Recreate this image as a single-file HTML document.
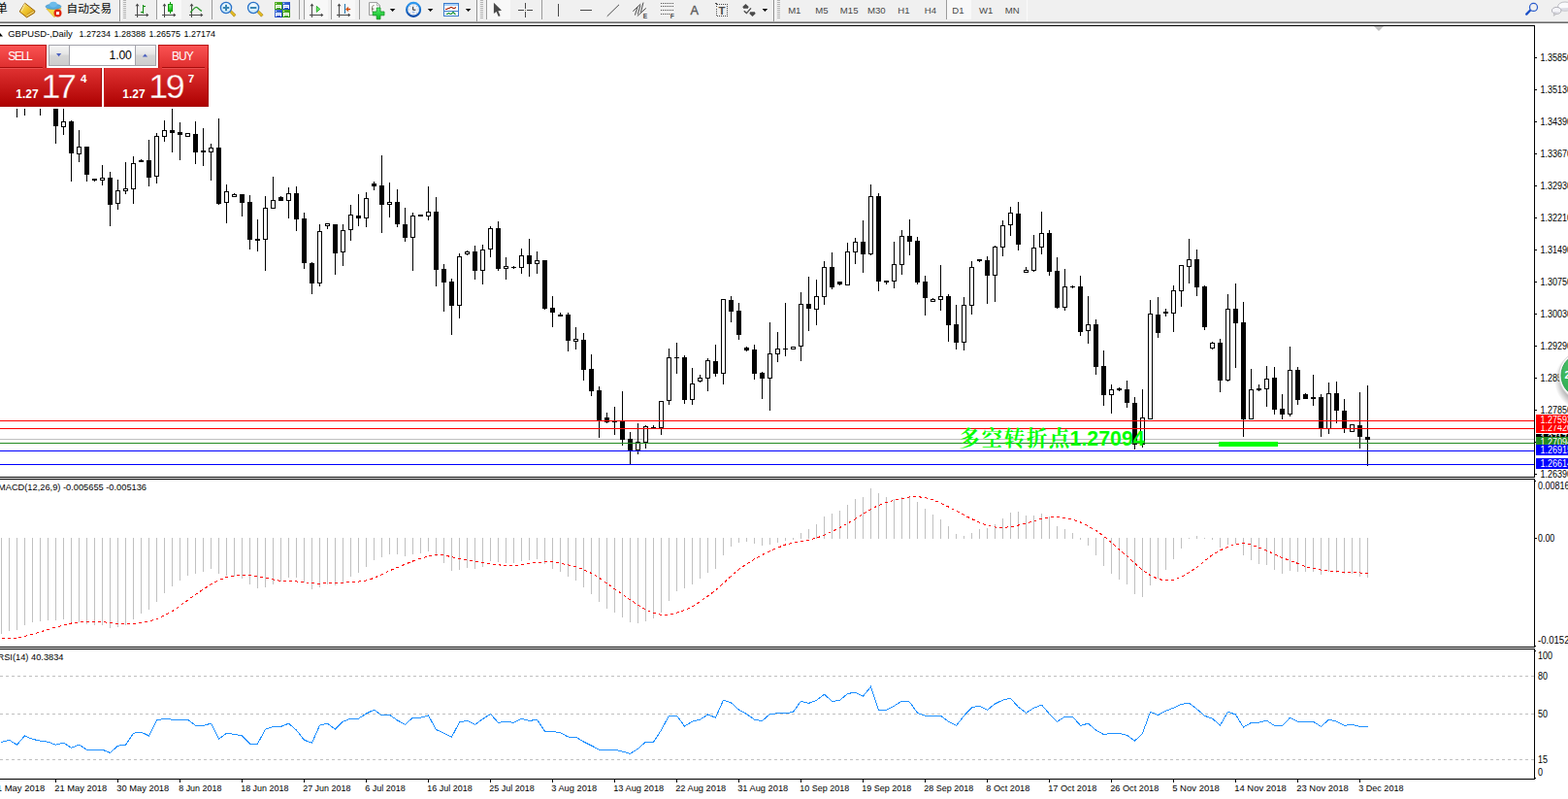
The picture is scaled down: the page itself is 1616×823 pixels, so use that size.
<!DOCTYPE html>
<html><head><meta charset="utf-8"><title>GBPUSD Daily</title>
<style>
html,body{margin:0;padding:0;background:#fff;overflow:hidden}
body{width:1616px;height:823px;font-family:"Liberation Sans",sans-serif}
svg{display:block;font-family:"Liberation Sans",sans-serif}
svg text{white-space:pre}
</style></head><body>
<svg width="1616" height="823" viewBox="0 0 1616 823">
<g shape-rendering="crispEdges">
<rect x="0" y="0" width="1616" height="22" fill="#f0f0f0"/>
<rect x="0" y="22" width="1616" height="1" fill="#a3a3a3"/>
<rect x="0" y="23" width="1616" height="1" fill="#6a6a6a"/>
<rect x="0" y="26" width="1582" height="1" fill="#000"/>
<rect x="0" y="491" width="1582" height="1" fill="#000"/>
<rect x="1581" y="26" width="1" height="466" fill="#000"/>
<rect x="0" y="493" width="1582" height="1" fill="#000"/>
<rect x="0" y="666" width="1582" height="1" fill="#000"/>
<rect x="1581" y="493" width="1" height="174" fill="#000"/>
<rect x="0" y="668" width="1582" height="1" fill="#000"/>
<rect x="0" y="802" width="1582" height="1" fill="#000"/>
<rect x="1581" y="668" width="1" height="135" fill="#000"/>
<rect x="0" y="452" width="1581" height="1" fill="#c0c0c0"/>
<path d="M1416 27h10l-5 5z" fill="#c0c0c0" shape-rendering="auto"/>
<rect x="17" y="112" width="1" height="9" fill="#000"/>
<rect x="25" y="112" width="1" height="7" fill="#000"/>
<rect x="41" y="112" width="1" height="7" fill="#000"/>
<rect x="57" y="112" width="1" height="36" fill="#000"/>
<rect x="55" y="112" width="5" height="18" fill="#000"/>
<rect x="65" y="112" width="1" height="27" fill="#000"/>
<rect x="63" y="125" width="5" height="6" fill="#000"/>
<rect x="64" y="126" width="3" height="4" fill="#fff"/>
<rect x="73" y="124" width="1" height="63" fill="#000"/>
<rect x="71" y="125" width="5" height="33" fill="#000"/>
<rect x="81" y="134" width="1" height="33" fill="#000"/>
<rect x="79" y="151" width="5" height="8" fill="#000"/>
<rect x="80" y="152" width="3" height="6" fill="#fff"/>
<rect x="89" y="151" width="1" height="36" fill="#000"/>
<rect x="87" y="151" width="5" height="29" fill="#000"/>
<rect x="97" y="184" width="1" height="3" fill="#000"/>
<rect x="95" y="184" width="5" height="2" fill="#000"/>
<rect x="105" y="170" width="1" height="21" fill="#000"/>
<rect x="103" y="183" width="5" height="3" fill="#000"/>
<rect x="104" y="184" width="3" height="1" fill="#fff"/>
<rect x="113" y="177" width="1" height="56" fill="#000"/>
<rect x="111" y="183" width="5" height="28" fill="#000"/>
<rect x="121" y="185" width="1" height="31" fill="#000"/>
<rect x="119" y="196" width="5" height="14" fill="#000"/>
<rect x="120" y="197" width="3" height="12" fill="#fff"/>
<rect x="129" y="167" width="1" height="33" fill="#000"/>
<rect x="127" y="194" width="5" height="3" fill="#000"/>
<rect x="128" y="195" width="3" height="1" fill="#fff"/>
<rect x="137" y="161" width="1" height="49" fill="#000"/>
<rect x="135" y="168" width="5" height="27" fill="#000"/>
<rect x="136" y="169" width="3" height="25" fill="#fff"/>
<rect x="145" y="164" width="1" height="3" fill="#000"/>
<rect x="143" y="165" width="5" height="2" fill="#000"/>
<rect x="153" y="144" width="1" height="48" fill="#000"/>
<rect x="151" y="165" width="5" height="18" fill="#000"/>
<rect x="161" y="137" width="1" height="52" fill="#000"/>
<rect x="159" y="140" width="5" height="42" fill="#000"/>
<rect x="160" y="141" width="3" height="40" fill="#fff"/>
<rect x="169" y="124" width="1" height="22" fill="#000"/>
<rect x="167" y="134" width="5" height="7" fill="#000"/>
<rect x="168" y="135" width="3" height="5" fill="#fff"/>
<rect x="177" y="112" width="1" height="45" fill="#000"/>
<rect x="175" y="134" width="5" height="3" fill="#000"/>
<rect x="185" y="126" width="1" height="39" fill="#000"/>
<rect x="183" y="136" width="5" height="3" fill="#000"/>
<rect x="193" y="137" width="1" height="4" fill="#000"/>
<rect x="191" y="137" width="5" height="4" fill="#000"/>
<rect x="192" y="138" width="3" height="2" fill="#fff"/>
<rect x="201" y="125" width="1" height="44" fill="#000"/>
<rect x="199" y="138" width="5" height="19" fill="#000"/>
<rect x="209" y="132" width="1" height="39" fill="#000"/>
<rect x="207" y="155" width="5" height="2" fill="#000"/>
<rect x="217" y="148" width="1" height="38" fill="#000"/>
<rect x="215" y="152" width="5" height="5" fill="#000"/>
<rect x="216" y="153" width="3" height="3" fill="#fff"/>
<rect x="225" y="122" width="1" height="89" fill="#000"/>
<rect x="223" y="152" width="5" height="58" fill="#000"/>
<rect x="233" y="190" width="1" height="40" fill="#000"/>
<rect x="231" y="197" width="5" height="12" fill="#000"/>
<rect x="232" y="198" width="3" height="10" fill="#fff"/>
<rect x="241" y="199" width="1" height="4" fill="#000"/>
<rect x="239" y="200" width="5" height="3" fill="#000"/>
<rect x="240" y="201" width="3" height="1" fill="#fff"/>
<rect x="249" y="200" width="1" height="23" fill="#000"/>
<rect x="247" y="200" width="5" height="9" fill="#000"/>
<rect x="257" y="201" width="1" height="56" fill="#000"/>
<rect x="255" y="208" width="5" height="39" fill="#000"/>
<rect x="265" y="226" width="1" height="33" fill="#000"/>
<rect x="263" y="246" width="5" height="2" fill="#000"/>
<rect x="273" y="202" width="1" height="77" fill="#000"/>
<rect x="271" y="214" width="5" height="33" fill="#000"/>
<rect x="272" y="215" width="3" height="31" fill="#fff"/>
<rect x="281" y="182" width="1" height="33" fill="#000"/>
<rect x="279" y="206" width="5" height="9" fill="#000"/>
<rect x="280" y="207" width="3" height="7" fill="#fff"/>
<rect x="289" y="202" width="1" height="5" fill="#000"/>
<rect x="287" y="203" width="5" height="4" fill="#000"/>
<rect x="297" y="193" width="1" height="32" fill="#000"/>
<rect x="295" y="199" width="5" height="8" fill="#000"/>
<rect x="296" y="200" width="3" height="6" fill="#fff"/>
<rect x="305" y="192" width="1" height="46" fill="#000"/>
<rect x="303" y="199" width="5" height="27" fill="#000"/>
<rect x="313" y="219" width="1" height="58" fill="#000"/>
<rect x="311" y="225" width="5" height="46" fill="#000"/>
<rect x="321" y="270" width="1" height="33" fill="#000"/>
<rect x="319" y="271" width="5" height="21" fill="#000"/>
<rect x="329" y="231" width="1" height="64" fill="#000"/>
<rect x="327" y="238" width="5" height="54" fill="#000"/>
<rect x="328" y="239" width="3" height="52" fill="#fff"/>
<rect x="337" y="230" width="1" height="6" fill="#000"/>
<rect x="335" y="230" width="5" height="3" fill="#000"/>
<rect x="336" y="231" width="3" height="1" fill="#fff"/>
<rect x="345" y="231" width="1" height="52" fill="#000"/>
<rect x="343" y="231" width="5" height="30" fill="#000"/>
<rect x="353" y="231" width="1" height="43" fill="#000"/>
<rect x="351" y="237" width="5" height="23" fill="#000"/>
<rect x="352" y="238" width="3" height="21" fill="#fff"/>
<rect x="361" y="211" width="1" height="37" fill="#000"/>
<rect x="359" y="221" width="5" height="16" fill="#000"/>
<rect x="360" y="222" width="3" height="14" fill="#fff"/>
<rect x="369" y="200" width="1" height="33" fill="#000"/>
<rect x="367" y="222" width="5" height="3" fill="#000"/>
<rect x="377" y="198" width="1" height="36" fill="#000"/>
<rect x="375" y="204" width="5" height="21" fill="#000"/>
<rect x="376" y="205" width="3" height="19" fill="#fff"/>
<rect x="385" y="187" width="1" height="9" fill="#000"/>
<rect x="383" y="189" width="5" height="3" fill="#000"/>
<rect x="393" y="160" width="1" height="80" fill="#000"/>
<rect x="391" y="191" width="5" height="20" fill="#000"/>
<rect x="401" y="188" width="1" height="36" fill="#000"/>
<rect x="399" y="208" width="5" height="3" fill="#000"/>
<rect x="400" y="209" width="3" height="1" fill="#fff"/>
<rect x="409" y="195" width="1" height="39" fill="#000"/>
<rect x="407" y="208" width="5" height="23" fill="#000"/>
<rect x="417" y="214" width="1" height="35" fill="#000"/>
<rect x="415" y="231" width="5" height="14" fill="#000"/>
<rect x="425" y="219" width="1" height="60" fill="#000"/>
<rect x="423" y="222" width="5" height="23" fill="#000"/>
<rect x="424" y="223" width="3" height="21" fill="#fff"/>
<rect x="433" y="221" width="1" height="2" fill="#000"/>
<rect x="431" y="221" width="5" height="2" fill="#000"/>
<rect x="441" y="192" width="1" height="35" fill="#000"/>
<rect x="439" y="218" width="5" height="5" fill="#000"/>
<rect x="440" y="219" width="3" height="3" fill="#fff"/>
<rect x="449" y="203" width="1" height="92" fill="#000"/>
<rect x="447" y="218" width="5" height="60" fill="#000"/>
<rect x="457" y="272" width="1" height="49" fill="#000"/>
<rect x="455" y="277" width="5" height="14" fill="#000"/>
<rect x="465" y="287" width="1" height="58" fill="#000"/>
<rect x="463" y="290" width="5" height="25" fill="#000"/>
<rect x="473" y="261" width="1" height="67" fill="#000"/>
<rect x="471" y="264" width="5" height="51" fill="#000"/>
<rect x="472" y="265" width="3" height="49" fill="#fff"/>
<rect x="481" y="258" width="1" height="5" fill="#000"/>
<rect x="479" y="259" width="5" height="3" fill="#000"/>
<rect x="480" y="260" width="3" height="1" fill="#fff"/>
<rect x="489" y="253" width="1" height="35" fill="#000"/>
<rect x="487" y="259" width="5" height="20" fill="#000"/>
<rect x="497" y="252" width="1" height="41" fill="#000"/>
<rect x="495" y="257" width="5" height="22" fill="#000"/>
<rect x="496" y="258" width="3" height="20" fill="#fff"/>
<rect x="505" y="233" width="1" height="32" fill="#000"/>
<rect x="503" y="235" width="5" height="22" fill="#000"/>
<rect x="504" y="236" width="3" height="20" fill="#fff"/>
<rect x="513" y="228" width="1" height="51" fill="#000"/>
<rect x="511" y="235" width="5" height="42" fill="#000"/>
<rect x="521" y="265" width="1" height="23" fill="#000"/>
<rect x="519" y="274" width="5" height="3" fill="#000"/>
<rect x="520" y="275" width="3" height="1" fill="#fff"/>
<rect x="529" y="274" width="1" height="3" fill="#000"/>
<rect x="527" y="275" width="5" height="1" fill="#000"/>
<rect x="537" y="256" width="1" height="26" fill="#000"/>
<rect x="535" y="263" width="5" height="13" fill="#000"/>
<rect x="536" y="264" width="3" height="11" fill="#fff"/>
<rect x="545" y="246" width="1" height="39" fill="#000"/>
<rect x="543" y="263" width="5" height="9" fill="#000"/>
<rect x="553" y="259" width="1" height="23" fill="#000"/>
<rect x="551" y="268" width="5" height="4" fill="#000"/>
<rect x="552" y="269" width="3" height="2" fill="#fff"/>
<rect x="561" y="268" width="1" height="51" fill="#000"/>
<rect x="559" y="268" width="5" height="50" fill="#000"/>
<rect x="569" y="305" width="1" height="32" fill="#000"/>
<rect x="567" y="317" width="5" height="5" fill="#000"/>
<rect x="577" y="322" width="1" height="4" fill="#000"/>
<rect x="575" y="324" width="5" height="2" fill="#000"/>
<rect x="585" y="322" width="1" height="40" fill="#000"/>
<rect x="583" y="324" width="5" height="27" fill="#000"/>
<rect x="593" y="337" width="1" height="23" fill="#000"/>
<rect x="591" y="349" width="5" height="3" fill="#000"/>
<rect x="592" y="350" width="3" height="1" fill="#fff"/>
<rect x="601" y="343" width="1" height="49" fill="#000"/>
<rect x="599" y="350" width="5" height="31" fill="#000"/>
<rect x="609" y="365" width="1" height="43" fill="#000"/>
<rect x="607" y="380" width="5" height="23" fill="#000"/>
<rect x="617" y="398" width="1" height="53" fill="#000"/>
<rect x="615" y="402" width="5" height="31" fill="#000"/>
<rect x="625" y="425" width="1" height="11" fill="#000"/>
<rect x="623" y="430" width="5" height="5" fill="#000"/>
<rect x="633" y="419" width="1" height="29" fill="#000"/>
<rect x="631" y="434" width="5" height="1" fill="#000"/>
<rect x="641" y="403" width="1" height="56" fill="#000"/>
<rect x="639" y="434" width="5" height="19" fill="#000"/>
<rect x="649" y="445" width="1" height="33" fill="#000"/>
<rect x="647" y="452" width="5" height="12" fill="#000"/>
<rect x="657" y="436" width="1" height="32" fill="#000"/>
<rect x="655" y="455" width="5" height="9" fill="#000"/>
<rect x="656" y="456" width="3" height="7" fill="#fff"/>
<rect x="665" y="438" width="1" height="24" fill="#000"/>
<rect x="663" y="439" width="5" height="17" fill="#000"/>
<rect x="664" y="440" width="3" height="15" fill="#fff"/>
<rect x="673" y="438" width="1" height="3" fill="#000"/>
<rect x="671" y="440" width="5" height="1" fill="#000"/>
<rect x="681" y="413" width="1" height="35" fill="#000"/>
<rect x="679" y="413" width="5" height="28" fill="#000"/>
<rect x="680" y="414" width="3" height="26" fill="#fff"/>
<rect x="689" y="359" width="1" height="58" fill="#000"/>
<rect x="687" y="368" width="5" height="45" fill="#000"/>
<rect x="688" y="369" width="3" height="43" fill="#fff"/>
<rect x="697" y="353" width="1" height="32" fill="#000"/>
<rect x="695" y="368" width="5" height="1" fill="#000"/>
<rect x="705" y="366" width="1" height="50" fill="#000"/>
<rect x="703" y="368" width="5" height="44" fill="#000"/>
<rect x="713" y="379" width="1" height="38" fill="#000"/>
<rect x="711" y="395" width="5" height="17" fill="#000"/>
<rect x="712" y="396" width="3" height="15" fill="#fff"/>
<rect x="721" y="386" width="1" height="8" fill="#000"/>
<rect x="719" y="389" width="5" height="4" fill="#000"/>
<rect x="720" y="390" width="3" height="2" fill="#fff"/>
<rect x="729" y="369" width="1" height="34" fill="#000"/>
<rect x="727" y="371" width="5" height="19" fill="#000"/>
<rect x="728" y="372" width="3" height="17" fill="#fff"/>
<rect x="737" y="355" width="1" height="33" fill="#000"/>
<rect x="735" y="372" width="5" height="13" fill="#000"/>
<rect x="745" y="308" width="1" height="88" fill="#000"/>
<rect x="743" y="308" width="5" height="77" fill="#000"/>
<rect x="744" y="309" width="3" height="75" fill="#fff"/>
<rect x="753" y="305" width="1" height="27" fill="#000"/>
<rect x="751" y="309" width="5" height="12" fill="#000"/>
<rect x="761" y="312" width="1" height="38" fill="#000"/>
<rect x="759" y="320" width="5" height="25" fill="#000"/>
<rect x="769" y="357" width="1" height="5" fill="#000"/>
<rect x="767" y="358" width="5" height="3" fill="#000"/>
<rect x="777" y="355" width="1" height="36" fill="#000"/>
<rect x="775" y="360" width="5" height="25" fill="#000"/>
<rect x="785" y="383" width="1" height="28" fill="#000"/>
<rect x="783" y="384" width="5" height="6" fill="#000"/>
<rect x="793" y="332" width="1" height="91" fill="#000"/>
<rect x="791" y="364" width="5" height="26" fill="#000"/>
<rect x="792" y="365" width="3" height="24" fill="#fff"/>
<rect x="801" y="342" width="1" height="31" fill="#000"/>
<rect x="799" y="359" width="5" height="6" fill="#000"/>
<rect x="800" y="360" width="3" height="4" fill="#fff"/>
<rect x="809" y="312" width="1" height="55" fill="#000"/>
<rect x="807" y="359" width="5" height="1" fill="#000"/>
<rect x="817" y="357" width="1" height="3" fill="#000"/>
<rect x="815" y="357" width="5" height="3" fill="#000"/>
<rect x="816" y="358" width="3" height="1" fill="#fff"/>
<rect x="825" y="301" width="1" height="71" fill="#000"/>
<rect x="823" y="313" width="5" height="44" fill="#000"/>
<rect x="824" y="314" width="3" height="42" fill="#fff"/>
<rect x="833" y="285" width="1" height="56" fill="#000"/>
<rect x="831" y="313" width="5" height="5" fill="#000"/>
<rect x="841" y="288" width="1" height="47" fill="#000"/>
<rect x="839" y="305" width="5" height="14" fill="#000"/>
<rect x="840" y="306" width="3" height="12" fill="#fff"/>
<rect x="849" y="269" width="1" height="45" fill="#000"/>
<rect x="847" y="275" width="5" height="31" fill="#000"/>
<rect x="848" y="276" width="3" height="29" fill="#fff"/>
<rect x="857" y="260" width="1" height="38" fill="#000"/>
<rect x="855" y="275" width="5" height="21" fill="#000"/>
<rect x="865" y="290" width="1" height="4" fill="#000"/>
<rect x="863" y="290" width="5" height="3" fill="#000"/>
<rect x="873" y="250" width="1" height="44" fill="#000"/>
<rect x="871" y="259" width="5" height="35" fill="#000"/>
<rect x="872" y="260" width="3" height="33" fill="#fff"/>
<rect x="881" y="245" width="1" height="27" fill="#000"/>
<rect x="879" y="249" width="5" height="11" fill="#000"/>
<rect x="880" y="250" width="3" height="9" fill="#fff"/>
<rect x="889" y="227" width="1" height="54" fill="#000"/>
<rect x="887" y="249" width="5" height="13" fill="#000"/>
<rect x="897" y="190" width="1" height="73" fill="#000"/>
<rect x="895" y="202" width="5" height="60" fill="#000"/>
<rect x="896" y="203" width="3" height="58" fill="#fff"/>
<rect x="905" y="199" width="1" height="101" fill="#000"/>
<rect x="903" y="202" width="5" height="88" fill="#000"/>
<rect x="913" y="289" width="1" height="4" fill="#000"/>
<rect x="911" y="289" width="5" height="2" fill="#000"/>
<rect x="921" y="249" width="1" height="48" fill="#000"/>
<rect x="919" y="272" width="5" height="18" fill="#000"/>
<rect x="920" y="273" width="3" height="16" fill="#fff"/>
<rect x="929" y="237" width="1" height="46" fill="#000"/>
<rect x="927" y="243" width="5" height="30" fill="#000"/>
<rect x="928" y="244" width="3" height="28" fill="#fff"/>
<rect x="937" y="226" width="1" height="37" fill="#000"/>
<rect x="935" y="243" width="5" height="6" fill="#000"/>
<rect x="945" y="244" width="1" height="49" fill="#000"/>
<rect x="943" y="248" width="5" height="43" fill="#000"/>
<rect x="953" y="284" width="1" height="41" fill="#000"/>
<rect x="951" y="290" width="5" height="17" fill="#000"/>
<rect x="961" y="307" width="1" height="4" fill="#000"/>
<rect x="959" y="308" width="5" height="3" fill="#000"/>
<rect x="960" y="309" width="3" height="1" fill="#fff"/>
<rect x="969" y="273" width="1" height="47" fill="#000"/>
<rect x="967" y="305" width="5" height="4" fill="#000"/>
<rect x="968" y="306" width="3" height="2" fill="#fff"/>
<rect x="977" y="303" width="1" height="49" fill="#000"/>
<rect x="975" y="305" width="5" height="30" fill="#000"/>
<rect x="985" y="314" width="1" height="46" fill="#000"/>
<rect x="983" y="334" width="5" height="19" fill="#000"/>
<rect x="993" y="306" width="1" height="55" fill="#000"/>
<rect x="991" y="314" width="5" height="39" fill="#000"/>
<rect x="992" y="315" width="3" height="37" fill="#fff"/>
<rect x="1001" y="269" width="1" height="55" fill="#000"/>
<rect x="999" y="275" width="5" height="40" fill="#000"/>
<rect x="1000" y="276" width="3" height="38" fill="#fff"/>
<rect x="1009" y="267" width="1" height="3" fill="#000"/>
<rect x="1007" y="267" width="5" height="2" fill="#000"/>
<rect x="1017" y="264" width="1" height="49" fill="#000"/>
<rect x="1015" y="268" width="5" height="16" fill="#000"/>
<rect x="1025" y="253" width="1" height="58" fill="#000"/>
<rect x="1023" y="254" width="5" height="30" fill="#000"/>
<rect x="1024" y="255" width="3" height="28" fill="#fff"/>
<rect x="1033" y="227" width="1" height="37" fill="#000"/>
<rect x="1031" y="232" width="5" height="23" fill="#000"/>
<rect x="1032" y="233" width="3" height="21" fill="#fff"/>
<rect x="1041" y="213" width="1" height="30" fill="#000"/>
<rect x="1039" y="219" width="5" height="13" fill="#000"/>
<rect x="1040" y="220" width="3" height="11" fill="#fff"/>
<rect x="1049" y="208" width="1" height="50" fill="#000"/>
<rect x="1047" y="220" width="5" height="32" fill="#000"/>
<rect x="1057" y="275" width="1" height="5" fill="#000"/>
<rect x="1055" y="278" width="5" height="3" fill="#000"/>
<rect x="1056" y="279" width="3" height="1" fill="#fff"/>
<rect x="1065" y="242" width="1" height="38" fill="#000"/>
<rect x="1063" y="255" width="5" height="24" fill="#000"/>
<rect x="1064" y="256" width="3" height="22" fill="#fff"/>
<rect x="1073" y="218" width="1" height="44" fill="#000"/>
<rect x="1071" y="240" width="5" height="15" fill="#000"/>
<rect x="1072" y="241" width="3" height="13" fill="#fff"/>
<rect x="1081" y="237" width="1" height="47" fill="#000"/>
<rect x="1079" y="240" width="5" height="40" fill="#000"/>
<rect x="1089" y="265" width="1" height="53" fill="#000"/>
<rect x="1087" y="279" width="5" height="38" fill="#000"/>
<rect x="1097" y="277" width="1" height="43" fill="#000"/>
<rect x="1095" y="295" width="5" height="22" fill="#000"/>
<rect x="1096" y="296" width="3" height="20" fill="#fff"/>
<rect x="1105" y="294" width="1" height="3" fill="#000"/>
<rect x="1103" y="295" width="5" height="1" fill="#000"/>
<rect x="1113" y="284" width="1" height="62" fill="#000"/>
<rect x="1111" y="295" width="5" height="47" fill="#000"/>
<rect x="1121" y="305" width="1" height="49" fill="#000"/>
<rect x="1119" y="334" width="5" height="7" fill="#000"/>
<rect x="1120" y="335" width="3" height="5" fill="#fff"/>
<rect x="1129" y="329" width="1" height="57" fill="#000"/>
<rect x="1127" y="334" width="5" height="44" fill="#000"/>
<rect x="1137" y="361" width="1" height="57" fill="#000"/>
<rect x="1135" y="377" width="5" height="30" fill="#000"/>
<rect x="1145" y="396" width="1" height="30" fill="#000"/>
<rect x="1143" y="401" width="5" height="6" fill="#000"/>
<rect x="1144" y="402" width="3" height="4" fill="#fff"/>
<rect x="1153" y="399" width="1" height="4" fill="#000"/>
<rect x="1151" y="400" width="5" height="2" fill="#000"/>
<rect x="1161" y="392" width="1" height="28" fill="#000"/>
<rect x="1159" y="401" width="5" height="14" fill="#000"/>
<rect x="1169" y="409" width="1" height="54" fill="#000"/>
<rect x="1167" y="415" width="5" height="43" fill="#000"/>
<rect x="1177" y="401" width="1" height="60" fill="#000"/>
<rect x="1175" y="430" width="5" height="28" fill="#000"/>
<rect x="1176" y="431" width="3" height="26" fill="#fff"/>
<rect x="1185" y="309" width="1" height="123" fill="#000"/>
<rect x="1183" y="323" width="5" height="109" fill="#000"/>
<rect x="1184" y="324" width="3" height="107" fill="#fff"/>
<rect x="1193" y="306" width="1" height="42" fill="#000"/>
<rect x="1191" y="324" width="5" height="19" fill="#000"/>
<rect x="1201" y="318" width="1" height="8" fill="#000"/>
<rect x="1199" y="321" width="5" height="2" fill="#000"/>
<rect x="1209" y="294" width="1" height="48" fill="#000"/>
<rect x="1207" y="299" width="5" height="24" fill="#000"/>
<rect x="1208" y="300" width="3" height="22" fill="#fff"/>
<rect x="1217" y="273" width="1" height="43" fill="#000"/>
<rect x="1215" y="273" width="5" height="27" fill="#000"/>
<rect x="1216" y="274" width="3" height="25" fill="#fff"/>
<rect x="1225" y="246" width="1" height="46" fill="#000"/>
<rect x="1223" y="267" width="5" height="8" fill="#000"/>
<rect x="1224" y="268" width="3" height="6" fill="#fff"/>
<rect x="1233" y="257" width="1" height="48" fill="#000"/>
<rect x="1231" y="267" width="5" height="29" fill="#000"/>
<rect x="1241" y="294" width="1" height="46" fill="#000"/>
<rect x="1239" y="295" width="5" height="42" fill="#000"/>
<rect x="1249" y="352" width="1" height="8" fill="#000"/>
<rect x="1247" y="353" width="5" height="6" fill="#000"/>
<rect x="1248" y="354" width="3" height="4" fill="#fff"/>
<rect x="1257" y="349" width="1" height="55" fill="#000"/>
<rect x="1255" y="353" width="5" height="39" fill="#000"/>
<rect x="1265" y="303" width="1" height="90" fill="#000"/>
<rect x="1263" y="318" width="5" height="74" fill="#000"/>
<rect x="1264" y="319" width="3" height="72" fill="#fff"/>
<rect x="1273" y="292" width="1" height="87" fill="#000"/>
<rect x="1271" y="318" width="5" height="15" fill="#000"/>
<rect x="1281" y="311" width="1" height="139" fill="#000"/>
<rect x="1279" y="332" width="5" height="100" fill="#000"/>
<rect x="1289" y="380" width="1" height="52" fill="#000"/>
<rect x="1287" y="401" width="5" height="31" fill="#000"/>
<rect x="1288" y="402" width="3" height="29" fill="#fff"/>
<rect x="1297" y="396" width="1" height="7" fill="#000"/>
<rect x="1295" y="400" width="5" height="2" fill="#000"/>
<rect x="1305" y="377" width="1" height="42" fill="#000"/>
<rect x="1303" y="390" width="5" height="11" fill="#000"/>
<rect x="1304" y="391" width="3" height="9" fill="#fff"/>
<rect x="1313" y="378" width="1" height="49" fill="#000"/>
<rect x="1311" y="389" width="5" height="33" fill="#000"/>
<rect x="1321" y="406" width="1" height="26" fill="#000"/>
<rect x="1319" y="421" width="5" height="6" fill="#000"/>
<rect x="1329" y="357" width="1" height="72" fill="#000"/>
<rect x="1327" y="381" width="5" height="46" fill="#000"/>
<rect x="1328" y="382" width="3" height="44" fill="#fff"/>
<rect x="1337" y="378" width="1" height="39" fill="#000"/>
<rect x="1335" y="381" width="5" height="31" fill="#000"/>
<rect x="1345" y="405" width="1" height="6" fill="#000"/>
<rect x="1343" y="406" width="5" height="5" fill="#000"/>
<rect x="1353" y="386" width="1" height="32" fill="#000"/>
<rect x="1351" y="409" width="5" height="2" fill="#000"/>
<rect x="1361" y="406" width="1" height="44" fill="#000"/>
<rect x="1359" y="409" width="5" height="33" fill="#000"/>
<rect x="1369" y="394" width="1" height="53" fill="#000"/>
<rect x="1367" y="405" width="5" height="37" fill="#000"/>
<rect x="1368" y="406" width="3" height="35" fill="#fff"/>
<rect x="1377" y="393" width="1" height="43" fill="#000"/>
<rect x="1375" y="405" width="5" height="18" fill="#000"/>
<rect x="1385" y="411" width="1" height="35" fill="#000"/>
<rect x="1383" y="423" width="5" height="18" fill="#000"/>
<rect x="1393" y="437" width="1" height="8" fill="#000"/>
<rect x="1391" y="437" width="5" height="8" fill="#000"/>
<rect x="1392" y="438" width="3" height="6" fill="#fff"/>
<rect x="1401" y="404" width="1" height="58" fill="#000"/>
<rect x="1399" y="438" width="5" height="12" fill="#000"/>
<rect x="1409" y="397" width="1" height="83" fill="#000"/>
<rect x="1407" y="450" width="5" height="3" fill="#000"/>
<rect x="0" y="433" width="1581" height="1" fill="#ff0000"/>
<rect x="0" y="441" width="1581" height="1" fill="#ff0000"/>
<rect x="0" y="456" width="1581" height="1" fill="#228b22"/>
<rect x="0" y="464" width="1581" height="1" fill="#0000ff"/>
<rect x="0" y="478" width="1581" height="1" fill="#0000ff"/>
<rect x="1256" y="455" width="61" height="5" fill="#00ff00"/>
<rect x="1" y="554" width="1" height="99" fill="#c0c0c0"/>
<rect x="9" y="554" width="1" height="96" fill="#c0c0c0"/>
<rect x="17" y="554" width="1" height="95" fill="#c0c0c0"/>
<rect x="25" y="554" width="1" height="90" fill="#c0c0c0"/>
<rect x="33" y="554" width="1" height="87" fill="#c0c0c0"/>
<rect x="41" y="554" width="1" height="86" fill="#c0c0c0"/>
<rect x="49" y="554" width="1" height="85" fill="#c0c0c0"/>
<rect x="57" y="554" width="1" height="85" fill="#c0c0c0"/>
<rect x="65" y="554" width="1" height="84" fill="#c0c0c0"/>
<rect x="73" y="554" width="1" height="87" fill="#c0c0c0"/>
<rect x="81" y="554" width="1" height="87" fill="#c0c0c0"/>
<rect x="89" y="554" width="1" height="89" fill="#c0c0c0"/>
<rect x="97" y="554" width="1" height="90" fill="#c0c0c0"/>
<rect x="105" y="554" width="1" height="90" fill="#c0c0c0"/>
<rect x="113" y="554" width="1" height="93" fill="#c0c0c0"/>
<rect x="121" y="554" width="1" height="92" fill="#c0c0c0"/>
<rect x="129" y="554" width="1" height="90" fill="#c0c0c0"/>
<rect x="137" y="554" width="1" height="84" fill="#c0c0c0"/>
<rect x="145" y="554" width="1" height="78" fill="#c0c0c0"/>
<rect x="153" y="554" width="1" height="74" fill="#c0c0c0"/>
<rect x="161" y="554" width="1" height="66" fill="#c0c0c0"/>
<rect x="169" y="554" width="1" height="57" fill="#c0c0c0"/>
<rect x="177" y="554" width="1" height="50" fill="#c0c0c0"/>
<rect x="185" y="554" width="1" height="44" fill="#c0c0c0"/>
<rect x="193" y="554" width="1" height="39" fill="#c0c0c0"/>
<rect x="201" y="554" width="1" height="37" fill="#c0c0c0"/>
<rect x="209" y="554" width="1" height="35" fill="#c0c0c0"/>
<rect x="217" y="554" width="1" height="32" fill="#c0c0c0"/>
<rect x="225" y="554" width="1" height="37" fill="#c0c0c0"/>
<rect x="233" y="554" width="1" height="39" fill="#c0c0c0"/>
<rect x="241" y="554" width="1" height="40" fill="#c0c0c0"/>
<rect x="249" y="554" width="1" height="42" fill="#c0c0c0"/>
<rect x="257" y="554" width="1" height="48" fill="#c0c0c0"/>
<rect x="265" y="554" width="1" height="52" fill="#c0c0c0"/>
<rect x="273" y="554" width="1" height="51" fill="#c0c0c0"/>
<rect x="281" y="554" width="1" height="48" fill="#c0c0c0"/>
<rect x="289" y="554" width="1" height="45" fill="#c0c0c0"/>
<rect x="297" y="554" width="1" height="41" fill="#c0c0c0"/>
<rect x="305" y="554" width="1" height="41" fill="#c0c0c0"/>
<rect x="313" y="554" width="1" height="46" fill="#c0c0c0"/>
<rect x="321" y="554" width="1" height="53" fill="#c0c0c0"/>
<rect x="329" y="554" width="1" height="51" fill="#c0c0c0"/>
<rect x="337" y="554" width="1" height="48" fill="#c0c0c0"/>
<rect x="345" y="554" width="1" height="49" fill="#c0c0c0"/>
<rect x="353" y="554" width="1" height="46" fill="#c0c0c0"/>
<rect x="361" y="554" width="1" height="40" fill="#c0c0c0"/>
<rect x="369" y="554" width="1" height="36" fill="#c0c0c0"/>
<rect x="377" y="554" width="1" height="30" fill="#c0c0c0"/>
<rect x="385" y="554" width="1" height="23" fill="#c0c0c0"/>
<rect x="393" y="554" width="1" height="20" fill="#c0c0c0"/>
<rect x="401" y="554" width="1" height="17" fill="#c0c0c0"/>
<rect x="409" y="554" width="1" height="17" fill="#c0c0c0"/>
<rect x="417" y="554" width="1" height="19" fill="#c0c0c0"/>
<rect x="425" y="554" width="1" height="17" fill="#c0c0c0"/>
<rect x="433" y="554" width="1" height="16" fill="#c0c0c0"/>
<rect x="441" y="554" width="1" height="14" fill="#c0c0c0"/>
<rect x="449" y="554" width="1" height="19" fill="#c0c0c0"/>
<rect x="457" y="554" width="1" height="26" fill="#c0c0c0"/>
<rect x="465" y="554" width="1" height="34" fill="#c0c0c0"/>
<rect x="473" y="554" width="1" height="33" fill="#c0c0c0"/>
<rect x="481" y="554" width="1" height="31" fill="#c0c0c0"/>
<rect x="489" y="554" width="1" height="32" fill="#c0c0c0"/>
<rect x="497" y="554" width="1" height="30" fill="#c0c0c0"/>
<rect x="505" y="554" width="1" height="24" fill="#c0c0c0"/>
<rect x="513" y="554" width="1" height="25" fill="#c0c0c0"/>
<rect x="521" y="554" width="1" height="26" fill="#c0c0c0"/>
<rect x="529" y="554" width="1" height="26" fill="#c0c0c0"/>
<rect x="537" y="554" width="1" height="24" fill="#c0c0c0"/>
<rect x="545" y="554" width="1" height="23" fill="#c0c0c0"/>
<rect x="553" y="554" width="1" height="22" fill="#c0c0c0"/>
<rect x="561" y="554" width="1" height="27" fill="#c0c0c0"/>
<rect x="569" y="554" width="1" height="32" fill="#c0c0c0"/>
<rect x="577" y="554" width="1" height="35" fill="#c0c0c0"/>
<rect x="585" y="554" width="1" height="40" fill="#c0c0c0"/>
<rect x="593" y="554" width="1" height="44" fill="#c0c0c0"/>
<rect x="601" y="554" width="1" height="51" fill="#c0c0c0"/>
<rect x="609" y="554" width="1" height="58" fill="#c0c0c0"/>
<rect x="617" y="554" width="1" height="66" fill="#c0c0c0"/>
<rect x="625" y="554" width="1" height="73" fill="#c0c0c0"/>
<rect x="633" y="554" width="1" height="77" fill="#c0c0c0"/>
<rect x="641" y="554" width="1" height="82" fill="#c0c0c0"/>
<rect x="649" y="554" width="1" height="87" fill="#c0c0c0"/>
<rect x="657" y="554" width="1" height="88" fill="#c0c0c0"/>
<rect x="665" y="554" width="1" height="86" fill="#c0c0c0"/>
<rect x="673" y="554" width="1" height="83" fill="#c0c0c0"/>
<rect x="681" y="554" width="1" height="77" fill="#c0c0c0"/>
<rect x="689" y="554" width="1" height="65" fill="#c0c0c0"/>
<rect x="697" y="554" width="1" height="55" fill="#c0c0c0"/>
<rect x="705" y="554" width="1" height="52" fill="#c0c0c0"/>
<rect x="713" y="554" width="1" height="48" fill="#c0c0c0"/>
<rect x="721" y="554" width="1" height="42" fill="#c0c0c0"/>
<rect x="729" y="554" width="1" height="36" fill="#c0c0c0"/>
<rect x="737" y="554" width="1" height="32" fill="#c0c0c0"/>
<rect x="745" y="554" width="1" height="18" fill="#c0c0c0"/>
<rect x="753" y="554" width="1" height="9" fill="#c0c0c0"/>
<rect x="761" y="554" width="1" height="5" fill="#c0c0c0"/>
<rect x="769" y="554" width="1" height="4" fill="#c0c0c0"/>
<rect x="777" y="554" width="1" height="6" fill="#c0c0c0"/>
<rect x="785" y="554" width="1" height="8" fill="#c0c0c0"/>
<rect x="793" y="554" width="1" height="7" fill="#c0c0c0"/>
<rect x="801" y="554" width="1" height="5" fill="#c0c0c0"/>
<rect x="809" y="554" width="1" height="3" fill="#c0c0c0"/>
<rect x="817" y="554" width="1" height="2" fill="#c0c0c0"/>
<rect x="825" y="549" width="1" height="6" fill="#c0c0c0"/>
<rect x="833" y="545" width="1" height="10" fill="#c0c0c0"/>
<rect x="841" y="540" width="1" height="15" fill="#c0c0c0"/>
<rect x="849" y="532" width="1" height="23" fill="#c0c0c0"/>
<rect x="857" y="529" width="1" height="26" fill="#c0c0c0"/>
<rect x="865" y="526" width="1" height="29" fill="#c0c0c0"/>
<rect x="873" y="520" width="1" height="35" fill="#c0c0c0"/>
<rect x="881" y="514" width="1" height="41" fill="#c0c0c0"/>
<rect x="889" y="512" width="1" height="43" fill="#c0c0c0"/>
<rect x="897" y="503" width="1" height="52" fill="#c0c0c0"/>
<rect x="905" y="508" width="1" height="47" fill="#c0c0c0"/>
<rect x="913" y="512" width="1" height="43" fill="#c0c0c0"/>
<rect x="921" y="514" width="1" height="41" fill="#c0c0c0"/>
<rect x="929" y="512" width="1" height="43" fill="#c0c0c0"/>
<rect x="937" y="512" width="1" height="43" fill="#c0c0c0"/>
<rect x="945" y="517" width="1" height="38" fill="#c0c0c0"/>
<rect x="953" y="524" width="1" height="31" fill="#c0c0c0"/>
<rect x="961" y="530" width="1" height="25" fill="#c0c0c0"/>
<rect x="969" y="535" width="1" height="20" fill="#c0c0c0"/>
<rect x="977" y="542" width="1" height="13" fill="#c0c0c0"/>
<rect x="985" y="550" width="1" height="5" fill="#c0c0c0"/>
<rect x="993" y="552" width="1" height="3" fill="#c0c0c0"/>
<rect x="1001" y="549" width="1" height="6" fill="#c0c0c0"/>
<rect x="1009" y="545" width="1" height="10" fill="#c0c0c0"/>
<rect x="1017" y="544" width="1" height="11" fill="#c0c0c0"/>
<rect x="1025" y="540" width="1" height="15" fill="#c0c0c0"/>
<rect x="1033" y="534" width="1" height="21" fill="#c0c0c0"/>
<rect x="1041" y="528" width="1" height="27" fill="#c0c0c0"/>
<rect x="1049" y="527" width="1" height="28" fill="#c0c0c0"/>
<rect x="1057" y="531" width="1" height="24" fill="#c0c0c0"/>
<rect x="1065" y="531" width="1" height="24" fill="#c0c0c0"/>
<rect x="1073" y="529" width="1" height="26" fill="#c0c0c0"/>
<rect x="1081" y="532" width="1" height="23" fill="#c0c0c0"/>
<rect x="1089" y="542" width="1" height="13" fill="#c0c0c0"/>
<rect x="1097" y="545" width="1" height="10" fill="#c0c0c0"/>
<rect x="1105" y="549" width="1" height="6" fill="#c0c0c0"/>
<rect x="1113" y="554" width="1" height="2" fill="#c0c0c0"/>
<rect x="1121" y="554" width="1" height="8" fill="#c0c0c0"/>
<rect x="1129" y="554" width="1" height="18" fill="#c0c0c0"/>
<rect x="1137" y="554" width="1" height="29" fill="#c0c0c0"/>
<rect x="1145" y="554" width="1" height="37" fill="#c0c0c0"/>
<rect x="1153" y="554" width="1" height="43" fill="#c0c0c0"/>
<rect x="1161" y="554" width="1" height="48" fill="#c0c0c0"/>
<rect x="1169" y="554" width="1" height="58" fill="#c0c0c0"/>
<rect x="1177" y="554" width="1" height="61" fill="#c0c0c0"/>
<rect x="1185" y="554" width="1" height="49" fill="#c0c0c0"/>
<rect x="1193" y="554" width="1" height="42" fill="#c0c0c0"/>
<rect x="1201" y="554" width="1" height="33" fill="#c0c0c0"/>
<rect x="1209" y="554" width="1" height="22" fill="#c0c0c0"/>
<rect x="1217" y="554" width="1" height="11" fill="#c0c0c0"/>
<rect x="1225" y="554" width="1" height="1" fill="#c0c0c0"/>
<rect x="1233" y="552" width="1" height="3" fill="#c0c0c0"/>
<rect x="1241" y="554" width="1" height="1" fill="#c0c0c0"/>
<rect x="1249" y="554" width="1" height="2" fill="#c0c0c0"/>
<rect x="1257" y="554" width="1" height="10" fill="#c0c0c0"/>
<rect x="1265" y="554" width="1" height="7" fill="#c0c0c0"/>
<rect x="1273" y="554" width="1" height="6" fill="#c0c0c0"/>
<rect x="1281" y="554" width="1" height="18" fill="#c0c0c0"/>
<rect x="1289" y="554" width="1" height="23" fill="#c0c0c0"/>
<rect x="1297" y="554" width="1" height="27" fill="#c0c0c0"/>
<rect x="1305" y="554" width="1" height="28" fill="#c0c0c0"/>
<rect x="1313" y="554" width="1" height="33" fill="#c0c0c0"/>
<rect x="1321" y="554" width="1" height="37" fill="#c0c0c0"/>
<rect x="1329" y="554" width="1" height="34" fill="#c0c0c0"/>
<rect x="1337" y="554" width="1" height="35" fill="#c0c0c0"/>
<rect x="1345" y="554" width="1" height="35" fill="#c0c0c0"/>
<rect x="1353" y="554" width="1" height="35" fill="#c0c0c0"/>
<rect x="1361" y="554" width="1" height="38" fill="#c0c0c0"/>
<rect x="1369" y="554" width="1" height="35" fill="#c0c0c0"/>
<rect x="1377" y="554" width="1" height="36" fill="#c0c0c0"/>
<rect x="1385" y="554" width="1" height="37" fill="#c0c0c0"/>
<rect x="1393" y="554" width="1" height="37" fill="#c0c0c0"/>
<rect x="1401" y="554" width="1" height="40" fill="#c0c0c0"/>
<rect x="1409" y="554" width="1" height="41" fill="#c0c0c0"/>
</g>
<polyline fill="none" stroke="#ff0000" stroke-width="1" stroke-dasharray="3 3" shape-rendering="crispEdges" points="1.5,657.3 9.5,657.3 17.5,657.3 25.5,655.5 33.5,653.4 41.5,651 49.5,648.4 57.5,646 65.5,644.2 73.5,642.0 81.5,641.0 89.5,640.3 97.5,640.3 105.5,640.7 113.5,641.5 121.5,642.3 129.5,642.7 137.5,642.7 145.5,641.7 153.5,640.2 161.5,637.7 169.5,634.0 177.5,629.6 185.5,624.1 193.5,618.2 201.5,612.3 209.5,606.9 217.5,601.8 225.5,597.6 233.5,594.6 241.5,592.8 249.5,592.0 257.5,592.4 265.5,593.9 273.5,595.4 281.5,596.9 289.5,598.4 297.5,598.8 305.5,599.0 313.5,599.7 321.5,600.8 329.5,601.2 337.5,600.7 345.5,600.5 353.5,600.3 361.5,599.7 369.5,599.1 377.5,597.9 385.5,595.4 393.5,591.7 401.5,587.9 409.5,584.5 417.5,581.2 425.5,578.0 433.5,575.3 441.5,572.9 449.5,571.7 457.5,572.0 465.5,573.6 473.5,575.3 481.5,576.9 489.5,578.3 497.5,579.7 505.5,580.6 513.5,581.8 521.5,582.6 529.5,582.6 537.5,581.5 545.5,580.4 553.5,579.4 561.5,578.8 569.5,579.0 577.5,580.2 585.5,581.9 593.5,583.9 601.5,586.7 609.5,590.5 617.5,595.3 625.5,601.0 633.5,606.6 641.5,612.1 649.5,617.9 657.5,623.2 665.5,627.9 673.5,631.4 681.5,633.5 689.5,633.3 697.5,631.3 705.5,628.6 713.5,624.8 721.5,619.8 729.5,614.0 737.5,608.0 745.5,600.8 753.5,593.3 761.5,586.6 769.5,581.0 777.5,575.9 785.5,571.5 793.5,567.6 801.5,564.2 809.5,561.0 817.5,559.2 825.5,557.7 833.5,556.1 841.5,554.2 849.5,551.1 857.5,547.4 865.5,543.6 873.5,539.3 881.5,534.5 889.5,529.7 897.5,524.6 905.5,520.5 913.5,517.4 921.5,515.4 929.5,513.5 937.5,511.9 945.5,511.6 953.5,512.7 961.5,514.7 969.5,518.2 977.5,522.0 985.5,526.2 993.5,530.4 1001.5,534.5 1009.5,538.2 1017.5,541.2 1025.5,543.0 1033.5,543.4 1041.5,542.7 1049.5,541.0 1057.5,538.9 1065.5,536.6 1073.5,534.4 1081.5,533.0 1089.5,532.7 1097.5,533.3 1105.5,534.9 1113.5,538.0 1121.5,541.8 1129.5,546.4 1137.5,552.1 1145.5,558.9 1153.5,566.1 1161.5,572.7 1169.5,580.1 1177.5,587.4 1185.5,592.6 1193.5,596.4 1201.5,598.0 1209.5,597.3 1217.5,594.4 1225.5,589.7 1233.5,584.2 1241.5,577.9 1249.5,571.4 1257.5,567.0 1265.5,563.2 1273.5,560.2 1281.5,559.8 1289.5,561.1 1297.5,564.0 1305.5,567.3 1313.5,570.8 1321.5,574.7 1329.5,577.3 1337.5,580.4 1345.5,583.6 1353.5,585.4 1361.5,587.1 1369.5,588.0 1377.5,588.9 1385.5,589.3 1393.5,589.3 1401.5,590.0 1409.5,590.7"/>
<line x1="0" y1="696.5" x2="1581" y2="696.5" stroke="#c0c0c0" stroke-width="1" stroke-dasharray="3 3" shape-rendering="crispEdges"/>
<line x1="0" y1="735.5" x2="1581" y2="735.5" stroke="#c0c0c0" stroke-width="1" stroke-dasharray="3 3" shape-rendering="crispEdges"/>
<line x1="0" y1="782.5" x2="1581" y2="782.5" stroke="#c0c0c0" stroke-width="1" stroke-dasharray="3 3" shape-rendering="crispEdges"/>
<polyline fill="none" stroke="#1e90ff" stroke-width="1" shape-rendering="crispEdges" points="1.5,764.5 9.5,762.3 17.5,767.2 25.5,758 33.5,761.3 41.5,763.2 49.5,764.2 57.5,767.2 65.5,765.2 73.5,770.2 81.5,767.2 89.5,772.2 97.5,772.2 105.5,772.2 113.5,775.4 121.5,768.2 129.5,767.2 137.5,755.3 145.5,754.1 153.5,758 161.5,742 169.5,740.2 177.5,741.2 185.5,741.2 193.5,741.2 201.5,747.4 209.5,747.4 217.5,745.2 225.5,761.3 233.5,755.3 241.5,756.3 249.5,758 257.5,766.2 265.5,766.2 273.5,751.1 281.5,748.4 289.5,748.4 297.5,745.2 305.5,752.1 313.5,762.3 321.5,765.2 329.5,747.2 337.5,745.2 345.5,751.1 353.5,743.2 361.5,740.2 369.5,740.2 377.5,735 385.5,731.1 393.5,737 401.5,736.3 409.5,742 417.5,746.2 425.5,739.2 433.5,739.2 441.5,737 449.5,751.6 457.5,755.1 465.5,759.3 473.5,743.9 481.5,742.2 489.5,746.4 497.5,740.7 505.5,735.5 513.5,744.4 521.5,743.2 529.5,744.4 537.5,740.2 545.5,742.5 553.5,741.2 561.5,753.3 569.5,753.3 577.5,754.8 585.5,759 593.5,759.3 601.5,764 609.5,768 617.5,772.2 625.5,772.2 633.5,772.2 641.5,774.1 649.5,776.4 657.5,771.2 665.5,764.2 673.5,764.2 681.5,752.1 689.5,737 697.5,737 705.5,748.1 713.5,743.2 721.5,741.2 729.5,736 737.5,739.2 745.5,721.2 753.5,723.9 761.5,731.1 769.5,735.5 777.5,741.2 785.5,742.5 793.5,735.5 801.5,734.8 809.5,734.8 817.5,733.3 825.5,722.2 833.5,724.4 841.5,721.4 849.5,715.2 857.5,722.4 865.5,721.4 873.5,714.5 881.5,713.2 889.5,717.2 897.5,707.3 905.5,731.1 913.5,731.3 921.5,727.1 929.5,722.2 937.5,723.1 945.5,734.3 953.5,737.3 961.5,737.3 969.5,737.3 977.5,743.2 985.5,747.4 993.5,737.3 1001.5,728.8 1009.5,727.1 1017.5,731.3 1025.5,724.9 1033.5,721.2 1041.5,719.2 1049.5,728.3 1057.5,734.3 1065.5,729.3 1073.5,726.1 1081.5,735.3 1089.5,743.4 1097.5,738.2 1105.5,738.2 1113.5,747.4 1121.5,745.2 1129.5,752.1 1137.5,756.6 1145.5,755.3 1153.5,755.3 1161.5,757.3 1169.5,763.2 1177.5,755.3 1185.5,733.3 1193.5,736.5 1201.5,732.3 1209.5,729.1 1217.5,725.4 1225.5,724.1 1233.5,730.3 1241.5,737.3 1249.5,740.2 1257.5,747.2 1265.5,733.3 1273.5,736 1281.5,749.1 1289.5,744.4 1297.5,744.2 1305.5,742.2 1313.5,747.4 1321.5,747.4 1329.5,739.2 1337.5,743.4 1345.5,743.4 1353.5,743.4 1361.5,748.4 1369.5,741.2 1377.5,743.2 1385.5,747.4 1393.5,746.2 1401.5,748.4 1409.5,748.4"/>
<text x="988.6" y="458.6" font-size="21.3" fill="#00ff00" font-weight="bold" font-family="&quot;Liberation Serif&quot;, &quot;Noto Serif CJK SC&quot;, serif" textLength="113.7" lengthAdjust="spacing">多空转折点</text>
<text x="1102.6" y="458.5" font-size="21.3" fill="#00ff00" font-weight="bold" textLength="77" lengthAdjust="spacingAndGlyphs">1.27094</text>
<path d="M0 34l3 3.5h-3z" fill="#000"/>
<text x="8.3" y="38" font-size="9.8" fill="#000" textLength="66.4" lengthAdjust="spacingAndGlyphs">GBPUSD-,Daily</text>
<text x="81.4" y="38" font-size="9.8" fill="#000" textLength="32.5" lengthAdjust="spacingAndGlyphs">1.27234</text>
<text x="117.4" y="38" font-size="9.8" fill="#000" textLength="32.5" lengthAdjust="spacingAndGlyphs">1.28388</text>
<text x="153.4" y="38" font-size="9.8" fill="#000" textLength="32.5" lengthAdjust="spacingAndGlyphs">1.26575</text>
<text x="189.4" y="38" font-size="9.8" fill="#000" textLength="32.5" lengthAdjust="spacingAndGlyphs">1.27174</text>
<text x="-2" y="505" font-size="9.8" fill="#000" textLength="153" lengthAdjust="spacingAndGlyphs">MACD(12,26,9) -0.005655 -0.005136</text>
<text x="-2.5" y="680" font-size="9.8" fill="#000" textLength="68" lengthAdjust="spacingAndGlyphs">RSI(14) 40.3834</text>
<g shape-rendering="crispEdges">
<rect x="1582" y="59" width="2" height="1" fill="#000"/>
<rect x="1582" y="92" width="2" height="1" fill="#000"/>
<rect x="1582" y="125" width="2" height="1" fill="#000"/>
<rect x="1582" y="158" width="2" height="1" fill="#000"/>
<rect x="1582" y="191" width="2" height="1" fill="#000"/>
<rect x="1582" y="224" width="2" height="1" fill="#000"/>
<rect x="1582" y="257" width="2" height="1" fill="#000"/>
<rect x="1582" y="290" width="2" height="1" fill="#000"/>
<rect x="1582" y="323" width="2" height="1" fill="#000"/>
<rect x="1582" y="356" width="2" height="1" fill="#000"/>
<rect x="1582" y="389" width="2" height="1" fill="#000"/>
<rect x="1582" y="422" width="2" height="1" fill="#000"/>
<rect x="1582" y="455" width="2" height="1" fill="#000"/>
<rect x="1582" y="488" width="2" height="1" fill="#000"/>
<rect x="1582" y="495" width="1" height="1" fill="#000"/>
<rect x="1582" y="554" width="2" height="1" fill="#000"/>
<rect x="1582" y="665" width="1" height="1" fill="#000"/>
<rect x="1582" y="670" width="1" height="1" fill="#000"/>
<rect x="1582" y="801" width="1" height="1" fill="#000"/>
</g>
<text x="1587.5" y="62.8" font-size="10" fill="#000" textLength="32.5" lengthAdjust="spacingAndGlyphs">1.35850</text>
<text x="1587.5" y="95.8" font-size="10" fill="#000" textLength="32.5" lengthAdjust="spacingAndGlyphs">1.35130</text>
<text x="1587.5" y="128.8" font-size="10" fill="#000" textLength="32.5" lengthAdjust="spacingAndGlyphs">1.34390</text>
<text x="1587.5" y="161.8" font-size="10" fill="#000" textLength="32.5" lengthAdjust="spacingAndGlyphs">1.33670</text>
<text x="1587.5" y="194.8" font-size="10" fill="#000" textLength="32.5" lengthAdjust="spacingAndGlyphs">1.32930</text>
<text x="1587.5" y="227.8" font-size="10" fill="#000" textLength="32.5" lengthAdjust="spacingAndGlyphs">1.32210</text>
<text x="1587.5" y="260.8" font-size="10" fill="#000" textLength="32.5" lengthAdjust="spacingAndGlyphs">1.31490</text>
<text x="1587.5" y="293.8" font-size="10" fill="#000" textLength="32.5" lengthAdjust="spacingAndGlyphs">1.30750</text>
<text x="1587.5" y="326.8" font-size="10" fill="#000" textLength="32.5" lengthAdjust="spacingAndGlyphs">1.30030</text>
<text x="1587.5" y="359.8" font-size="10" fill="#000" textLength="32.5" lengthAdjust="spacingAndGlyphs">1.29290</text>
<text x="1587.5" y="392.8" font-size="10" fill="#000" textLength="32.5" lengthAdjust="spacingAndGlyphs">1.28570</text>
<text x="1587.5" y="425.8" font-size="10" fill="#000" textLength="32.5" lengthAdjust="spacingAndGlyphs">1.27850</text>
<text x="1587.5" y="458.8" font-size="10" fill="#000" textLength="32.5" lengthAdjust="spacingAndGlyphs">1.27130</text>
<text x="1587.5" y="491.8" font-size="10" fill="#000" textLength="32.5" lengthAdjust="spacingAndGlyphs">1.26390</text>
<text x="1585" y="504" font-size="10" fill="#000" textLength="32.5" lengthAdjust="spacingAndGlyphs">0.00816</text>
<text x="1585" y="558" font-size="10" fill="#000" textLength="17.3" lengthAdjust="spacingAndGlyphs">0.00</text>
<text x="1585" y="663" font-size="10" fill="#000" textLength="32.5" lengthAdjust="spacingAndGlyphs">-0.0152</text>
<text x="1585" y="679.0" font-size="10" fill="#000" textLength="15" lengthAdjust="spacingAndGlyphs">100</text>
<text x="1585" y="700.0" font-size="10" fill="#000" textLength="10" lengthAdjust="spacingAndGlyphs">80</text>
<text x="1585" y="739.0" font-size="10" fill="#000" textLength="10" lengthAdjust="spacingAndGlyphs">50</text>
<text x="1585" y="786.0" font-size="10" fill="#000" textLength="10" lengthAdjust="spacingAndGlyphs">15</text>
<text x="1585" y="799.0" font-size="10" fill="#000" textLength="5" lengthAdjust="spacingAndGlyphs">0</text>
<g shape-rendering="crispEdges">
<rect x="1583" y="435" width="40" height="11" fill="#ff0000"/>
</g>
<text x="1587.5" y="444" font-size="10" fill="#fff" textLength="32.5" lengthAdjust="spacingAndGlyphs">1.27420</text>
<g shape-rendering="crispEdges">
<rect x="1583" y="427" width="40" height="11" fill="#ff0000"/>
</g>
<text x="1587.5" y="436" font-size="10" fill="#fff" textLength="32.5" lengthAdjust="spacingAndGlyphs">1.27593</text>
<g shape-rendering="crispEdges">
<rect x="1583" y="447" width="40" height="11" fill="#000000"/>
</g>
<text x="1587.5" y="455" font-size="10" fill="#fff" textLength="32.5" lengthAdjust="spacingAndGlyphs">1.27174</text>
<g shape-rendering="crispEdges">
<rect x="1583" y="450" width="40" height="11" fill="#228b22"/>
</g>
<text x="1587.5" y="459" font-size="10" fill="#fff" textLength="32.5" lengthAdjust="spacingAndGlyphs">1.27094</text>
<g shape-rendering="crispEdges">
<rect x="1583" y="458" width="40" height="11" fill="#0000ff"/>
</g>
<text x="1587.5" y="467" font-size="10" fill="#fff" textLength="32.5" lengthAdjust="spacingAndGlyphs">1.26915</text>
<g shape-rendering="crispEdges">
<rect x="1583" y="472" width="40" height="11" fill="#0000ff"/>
</g>
<text x="1587.5" y="481" font-size="10" fill="#fff" textLength="32.5" lengthAdjust="spacingAndGlyphs">1.26614</text>
<g shape-rendering="crispEdges">
</g>
<g shape-rendering="crispEdges">
<rect x="57" y="803" width="1" height="3" fill="#000"/>
<rect x="121" y="803" width="1" height="3" fill="#000"/>
<rect x="185" y="803" width="1" height="3" fill="#000"/>
<rect x="249" y="803" width="1" height="3" fill="#000"/>
<rect x="313" y="803" width="1" height="3" fill="#000"/>
<rect x="377" y="803" width="1" height="3" fill="#000"/>
<rect x="441" y="803" width="1" height="3" fill="#000"/>
<rect x="505" y="803" width="1" height="3" fill="#000"/>
<rect x="569" y="803" width="1" height="3" fill="#000"/>
<rect x="633" y="803" width="1" height="3" fill="#000"/>
<rect x="697" y="803" width="1" height="3" fill="#000"/>
<rect x="761" y="803" width="1" height="3" fill="#000"/>
<rect x="825" y="803" width="1" height="3" fill="#000"/>
<rect x="889" y="803" width="1" height="3" fill="#000"/>
<rect x="953" y="803" width="1" height="3" fill="#000"/>
<rect x="1017" y="803" width="1" height="3" fill="#000"/>
<rect x="1081" y="803" width="1" height="3" fill="#000"/>
<rect x="1145" y="803" width="1" height="3" fill="#000"/>
<rect x="1209" y="803" width="1" height="3" fill="#000"/>
<rect x="1273" y="803" width="1" height="3" fill="#000"/>
<rect x="1337" y="803" width="1" height="3" fill="#000"/>
<rect x="1401" y="803" width="1" height="3" fill="#000"/>
</g>
<text x="-7.8" y="815" font-size="9.8" fill="#000" textLength="54.1" lengthAdjust="spacingAndGlyphs">11 May 2018</text>
<text x="56.2" y="815" font-size="9.8" fill="#000" textLength="54.1" lengthAdjust="spacingAndGlyphs">21 May 2018</text>
<text x="120.2" y="815" font-size="9.8" fill="#000" textLength="54.1" lengthAdjust="spacingAndGlyphs">30 May 2018</text>
<text x="184.2" y="815" font-size="9.8" fill="#000" textLength="44.2" lengthAdjust="spacingAndGlyphs">8 Jun 2018</text>
<text x="248.2" y="815" font-size="9.8" fill="#000" textLength="49.2" lengthAdjust="spacingAndGlyphs">18 Jun 2018</text>
<text x="312.2" y="815" font-size="9.8" fill="#000" textLength="49.2" lengthAdjust="spacingAndGlyphs">27 Jun 2018</text>
<text x="376.2" y="815" font-size="9.8" fill="#000" textLength="41.5" lengthAdjust="spacingAndGlyphs">6 Jul 2018</text>
<text x="440.2" y="815" font-size="9.8" fill="#000" textLength="46.5" lengthAdjust="spacingAndGlyphs">16 Jul 2018</text>
<text x="504.2" y="815" font-size="9.8" fill="#000" textLength="46.5" lengthAdjust="spacingAndGlyphs">25 Jul 2018</text>
<text x="568.2" y="815" font-size="9.8" fill="#000" textLength="47" lengthAdjust="spacingAndGlyphs">3 Aug 2018</text>
<text x="632.2" y="815" font-size="9.8" fill="#000" textLength="52" lengthAdjust="spacingAndGlyphs">13 Aug 2018</text>
<text x="696.2" y="815" font-size="9.8" fill="#000" textLength="52" lengthAdjust="spacingAndGlyphs">22 Aug 2018</text>
<text x="760.2" y="815" font-size="9.8" fill="#000" textLength="52" lengthAdjust="spacingAndGlyphs">31 Aug 2018</text>
<text x="824.2" y="815" font-size="9.8" fill="#000" textLength="51" lengthAdjust="spacingAndGlyphs">10 Sep 2018</text>
<text x="888.2" y="815" font-size="9.8" fill="#000" textLength="51" lengthAdjust="spacingAndGlyphs">19 Sep 2018</text>
<text x="952.2" y="815" font-size="9.8" fill="#000" textLength="51" lengthAdjust="spacingAndGlyphs">28 Sep 2018</text>
<text x="1016.2" y="815" font-size="9.8" fill="#000" textLength="45.1" lengthAdjust="spacingAndGlyphs">8 Oct 2018</text>
<text x="1080.2" y="815" font-size="9.8" fill="#000" textLength="50.1" lengthAdjust="spacingAndGlyphs">17 Oct 2018</text>
<text x="1144.2" y="815" font-size="9.8" fill="#000" textLength="50.1" lengthAdjust="spacingAndGlyphs">26 Oct 2018</text>
<text x="1208.2" y="815" font-size="9.8" fill="#000" textLength="48.6" lengthAdjust="spacingAndGlyphs">5 Nov 2018</text>
<text x="1272.2" y="815" font-size="9.8" fill="#000" textLength="53.6" lengthAdjust="spacingAndGlyphs">14 Nov 2018</text>
<text x="1336.2" y="815" font-size="9.8" fill="#000" textLength="53.6" lengthAdjust="spacingAndGlyphs">23 Nov 2018</text>
<text x="1400.2" y="815" font-size="9.8" fill="#000" textLength="46.3" lengthAdjust="spacingAndGlyphs">3 Dec 2018</text>
<defs><radialGradient id="shd" cx="0.5" cy="0.5" r="0.5"><stop offset="0.75" stop-color="#000" stop-opacity="0.28"/><stop offset="1" stop-color="#000" stop-opacity="0"/></radialGradient>
<linearGradient id="gbad" x1="0" y1="0" x2="0" y2="1"><stop offset="0" stop-color="#4cc068"/><stop offset="1" stop-color="#2fae52"/></linearGradient></defs>
<circle cx="1633" cy="392" r="31" fill="url(#shd)"/>
<circle cx="1632" cy="386.7" r="25.4" fill="#f6f6f6" stroke="#cfcfcf" stroke-width="0.7"/>
<circle cx="1632" cy="386.7" r="23" fill="url(#gbad)" stroke="#239a48" stroke-width="0.9"/>
<text x="1612.6" y="389.6" font-size="10.5" fill="#fff" font-weight="bold">2</text>
<defs>
<linearGradient id="gb" x1="0" y1="0" x2="0" y2="1"><stop offset="0" stop-color="#fa5252"/><stop offset="1" stop-color="#de2e2e"/></linearGradient>
<linearGradient id="gp" gradientUnits="userSpaceOnUse" x1="0" y1="70" x2="0" y2="110"><stop offset="0" stop-color="#e03232"/><stop offset="1" stop-color="#ac0000"/></linearGradient>
<linearGradient id="gs" x1="0" y1="0" x2="0" y2="1"><stop offset="0" stop-color="#f6f6f6"/><stop offset="0.45" stop-color="#e4e4e4"/><stop offset="0.5" stop-color="#d6d6d6"/><stop offset="1" stop-color="#cdcdcd"/></linearGradient>
</defs>
<g shape-rendering="crispEdges">
<rect x="0" y="44" width="217" height="68" fill="#ffffff"/>
<rect x="0" y="46" width="48" height="24" fill="#b81414"/>
<rect x="0" y="47" width="47" height="23" fill="url(#gb)"/>
<rect x="163" y="46" width="52" height="24" fill="#b81414"/>
<rect x="164" y="47" width="50" height="23" fill="url(#gb)"/>
<rect x="0" y="70" width="105" height="40" fill="url(#gp)"/>
<rect x="104" y="70" width="1" height="40" fill="#a00808"/>
<rect x="107" y="70" width="108" height="40" fill="url(#gp)"/>
<rect x="214" y="70" width="1" height="40" fill="#a00808"/>
<rect x="107" y="70" width="1" height="40" fill="#c81c1c"/>
<rect x="0" y="109" width="105" height="1" fill="#a40404"/>
<rect x="107" y="109" width="108" height="1" fill="#a40404"/>
<rect x="0" y="69" width="44" height="1" fill="#a60c0c"/>
<rect x="0" y="70" width="44" height="1" fill="#ea5050"/>
<rect x="167" y="69" width="44" height="1" fill="#a60c0c"/>
<rect x="167" y="70" width="44" height="1" fill="#ea5050"/>
<rect x="50" y="46" width="111" height="22" fill="#a4a4ac"/>
<rect x="51" y="47" width="20" height="20" fill="url(#gs)"/>
<rect x="72" y="47" width="67" height="20" fill="#ffffff"/>
<rect x="140" y="47" width="20" height="20" fill="url(#gs)"/>
</g>
<path d="M58 55h5.2l-2.6 3.2z" fill="#4a60c0"/>
<path d="M146.9 58.6h5.2l-2.6 -3.2z" fill="#4a60c0"/>
<text x="21" y="61.6" font-size="12" fill="#fff" text-anchor="middle" textLength="25.4" lengthAdjust="spacing">SELL</text>
<text x="188.3" y="61.6" font-size="12" fill="#fff" text-anchor="middle" textLength="22.8" lengthAdjust="spacing">BUY</text>
<text x="135.8" y="60.8" font-size="12.2" fill="#000" text-anchor="end" textLength="23.2" lengthAdjust="spacing">1.00</text>
<text x="16.2" y="101" font-size="12" fill="#fff" font-weight="bold" textLength="23.4" lengthAdjust="spacing">1.27</text>
<text x="42.6" y="101.2" font-size="35.8" fill="#fff" textLength="36.4" lengthAdjust="spacing" stroke="url(#gp)" stroke-width="0.3">17</text>
<text x="83" y="85" font-size="11.6" fill="#fff" font-weight="bold">4</text>
<text x="126.2" y="101" font-size="12" fill="#fff" font-weight="bold" textLength="23.4" lengthAdjust="spacing">1.27</text>
<text x="153.2" y="101.2" font-size="35.8" fill="#fff" textLength="37.4" lengthAdjust="spacing" stroke="url(#gp)" stroke-width="0.3">19</text>
<text x="193.8" y="85" font-size="11.6" fill="#fff" font-weight="bold">7</text>
<defs>
<linearGradient id="gold" x1="0" y1="0" x2="1" y2="1"><stop offset="0" stop-color="#fbe98a"/><stop offset="0.5" stop-color="#eec22a"/><stop offset="1" stop-color="#c8901a"/></linearGradient>
<linearGradient id="gcan" x1="0" y1="0" x2="0" y2="1"><stop offset="0" stop-color="#7df07d"/><stop offset="1" stop-color="#10c010"/></linearGradient>
<radialGradient id="lens" cx="0.5" cy="0.35" r="0.7"><stop offset="0" stop-color="#f4fbff"/><stop offset="1" stop-color="#bfe3f8"/></radialGradient>
<linearGradient id="gblue" x1="0" y1="0" x2="1" y2="1"><stop offset="0" stop-color="#4a7be0"/><stop offset="1" stop-color="#0c34b4"/></linearGradient>
<linearGradient id="ggrn" x1="0" y1="0" x2="1" y2="1"><stop offset="0" stop-color="#5ab82a"/><stop offset="1" stop-color="#2a8a08"/></linearGradient>
<linearGradient id="gplus" x1="0" y1="0" x2="0" y2="1"><stop offset="0" stop-color="#58f070"/><stop offset="1" stop-color="#08b820"/></linearGradient>
<linearGradient id="gclk" x1="0" y1="0" x2="0" y2="1"><stop offset="0" stop-color="#2e9af0"/><stop offset="1" stop-color="#0a48a8"/></linearGradient>
</defs>
<g shape-rendering="crispEdges">
<rect x="162" y="0" width="25" height="20" fill="#f8f8f8"/>
<rect x="161" y="0" width="1" height="20" fill="#9c9c9c"/>
<rect x="314" y="0" width="24" height="20" fill="#f8f8f8"/>
<rect x="313" y="0" width="1" height="20" fill="#9c9c9c"/>
<rect x="342" y="0" width="24" height="20" fill="#f8f8f8"/>
<rect x="341" y="0" width="1" height="20" fill="#9c9c9c"/>
<rect x="502" y="0" width="24" height="20" fill="#f8f8f8"/>
<rect x="501" y="0" width="1" height="20" fill="#9c9c9c"/>
<rect x="976" y="0" width="25" height="20" fill="#f8f8f8"/>
<rect x="975" y="0" width="1" height="20" fill="#9c9c9c"/>
<rect x="218" y="0" width="1" height="20" fill="#9c9c9c"/>
<rect x="308" y="0" width="1" height="20" fill="#9c9c9c"/>
<rect x="370" y="0" width="1" height="20" fill="#9c9c9c"/>
<rect x="558" y="0" width="1" height="20" fill="#9c9c9c"/>
<rect x="123" y="0" width="1" height="22" fill="#8e8e8e"/>
<rect x="124" y="0" width="1" height="22" fill="#fcfcfc"/>
<rect x="491" y="0" width="1" height="22" fill="#8e8e8e"/>
<rect x="492" y="0" width="1" height="22" fill="#fcfcfc"/>
<rect x="797" y="0" width="1" height="22" fill="#8e8e8e"/>
<rect x="798" y="0" width="1" height="22" fill="#fcfcfc"/>
<rect x="1058" y="0" width="1" height="22" fill="#fafafa"/>
<rect x="127" y="0" width="3" height="1" fill="#b4b4b4"/>
<rect x="127" y="2" width="3" height="1" fill="#b4b4b4"/>
<rect x="127" y="4" width="3" height="1" fill="#b4b4b4"/>
<rect x="127" y="6" width="3" height="1" fill="#b4b4b4"/>
<rect x="127" y="8" width="3" height="1" fill="#b4b4b4"/>
<rect x="127" y="10" width="3" height="1" fill="#b4b4b4"/>
<rect x="127" y="12" width="3" height="1" fill="#b4b4b4"/>
<rect x="127" y="14" width="3" height="1" fill="#b4b4b4"/>
<rect x="127" y="16" width="3" height="1" fill="#b4b4b4"/>
<rect x="127" y="18" width="3" height="1" fill="#b4b4b4"/>
<rect x="495" y="0" width="3" height="1" fill="#b4b4b4"/>
<rect x="495" y="2" width="3" height="1" fill="#b4b4b4"/>
<rect x="495" y="4" width="3" height="1" fill="#b4b4b4"/>
<rect x="495" y="6" width="3" height="1" fill="#b4b4b4"/>
<rect x="495" y="8" width="3" height="1" fill="#b4b4b4"/>
<rect x="495" y="10" width="3" height="1" fill="#b4b4b4"/>
<rect x="495" y="12" width="3" height="1" fill="#b4b4b4"/>
<rect x="495" y="14" width="3" height="1" fill="#b4b4b4"/>
<rect x="495" y="16" width="3" height="1" fill="#b4b4b4"/>
<rect x="495" y="18" width="3" height="1" fill="#b4b4b4"/>
<rect x="801" y="0" width="3" height="1" fill="#b4b4b4"/>
<rect x="801" y="2" width="3" height="1" fill="#b4b4b4"/>
<rect x="801" y="4" width="3" height="1" fill="#b4b4b4"/>
<rect x="801" y="6" width="3" height="1" fill="#b4b4b4"/>
<rect x="801" y="8" width="3" height="1" fill="#b4b4b4"/>
<rect x="801" y="10" width="3" height="1" fill="#b4b4b4"/>
<rect x="801" y="12" width="3" height="1" fill="#b4b4b4"/>
<rect x="801" y="14" width="3" height="1" fill="#b4b4b4"/>
<rect x="801" y="16" width="3" height="1" fill="#b4b4b4"/>
<rect x="801" y="18" width="3" height="1" fill="#b4b4b4"/>
</g>
<text x="-4.2" y="13" font-size="12" fill="#000" font-family="&quot;Liberation Sans&quot;, &quot;Noto Sans CJK SC&quot;, sans-serif">单</text>
<path d="M25.6 3.2L36 11.3L35.4 13.2L27.6 17.9L20.2 12z" fill="url(#gold)" stroke="#9a640a" stroke-width="1" stroke-linejoin="round"/>
<path d="M27.8 15.2L35 10.9" stroke="#b07a10" stroke-width="0.7" fill="none"/>
<path d="M27.6 16.4L35 11.8" stroke="#fff3b0" stroke-width="0.8" fill="none"/>
<path d="M25.6 3.6L22 11.5" stroke="#fff6c0" stroke-width="0.9" fill="none"/>
<path d="M47.8 9L63 8.4L56 17.8z" fill="#f4d848" stroke="#d8a818" stroke-width="0.6"/>
<ellipse cx="55" cy="6.8" rx="8" ry="2.6" fill="#5aaee0" stroke="#3a8cc4" stroke-width="0.6"/>
<ellipse cx="55" cy="4.6" rx="3.9" ry="2.8" fill="#6cbcea"/>
<circle cx="59.5" cy="13.6" r="4" fill="#e02810"/><rect x="58" y="12.1" width="3" height="3" fill="#fff"/>
<text x="68.6" y="13" font-size="11.6" fill="#000" font-family="&quot;Liberation Sans&quot;, &quot;Noto Sans CJK SC&quot;, sans-serif" textLength="46.4" lengthAdjust="spacing">自动交易</text>
<g fill="#4a4a4a" shape-rendering="crispEdges"><rect x="141" y="4" width="1" height="14"/><rect x="139" y="15" width="14" height="1"/></g>
<path d="M139.5 6.2L141.5 3.6L143.5 6.2z M150.8 13.5L153.4 15.5L150.8 17.5z" fill="#4a4a4a"/>
<g fill="#0a8a0a" shape-rendering="crispEdges"><rect x="147" y="5" width="1" height="9"/><rect x="148" y="6" width="2" height="1"/><rect x="145" y="12" width="2" height="1"/></g>
<g fill="#4a4a4a" shape-rendering="crispEdges"><rect x="169" y="4" width="1" height="14"/><rect x="167" y="15" width="14" height="1"/></g>
<path d="M167.5 6.2L169.5 3.6L171.5 6.2z M178.8 13.5L181.4 15.5L178.8 17.5z" fill="#4a4a4a"/>
<g shape-rendering="crispEdges"><rect x="175" y="2" width="1" height="12" fill="#0a9a0a"/><rect x="173" y="4" width="5" height="8" fill="#0a9a0a"/><rect x="174" y="5" width="3" height="6" fill="url(#gcan)"/></g>
<g fill="#4a4a4a" shape-rendering="crispEdges"><rect x="197" y="4" width="1" height="14"/><rect x="195" y="15" width="14" height="1"/></g>
<path d="M195.5 6.2L197.5 3.6L199.5 6.2z M206.8 13.5L209.4 15.5L206.8 17.5z" fill="#4a4a4a"/>
<path d="M196 12.8C198.5 11.5 200 7.4 202.2 7.4C204.2 7.4 205.5 10.6 208 11.4" fill="none" stroke="#2a9a2a" stroke-width="1.2"/>
<path d="M236.4 12L238.2 10.6L243 15.2L241.2 17.2z" fill="#e4bc20" stroke="#a07810" stroke-width="0.6"/>
<circle cx="233" cy="8" r="5.6" fill="url(#lens)" stroke="#2a72c8" stroke-width="1.3"/>
<rect x="229.8" y="7" width="6.4" height="2" fill="#3a86b4"/>
<rect x="232" y="4.8" width="2" height="6.4" fill="#3a86b4"/>
<path d="M264.5 12L266.3 10.6L271.1 15.2L269.3 17.2z" fill="#e4bc20" stroke="#a07810" stroke-width="0.6"/>
<circle cx="261.1" cy="8" r="5.6" fill="url(#lens)" stroke="#2a72c8" stroke-width="1.3"/>
<rect x="257.90000000000003" y="7" width="6.4" height="2" fill="#3a86b4"/>
<g shape-rendering="crispEdges">
<rect x="283" y="2" width="8" height="8" fill="url(#ggrn)"/>
<rect x="284" y="5" width="6" height="4" fill="#ffffff"/>
<rect x="285" y="8" width="4" height="1" fill="url(#ggrn)"/>
<rect x="285" y="6" width="4" height="1" fill="#b4dca0"/>
<rect x="284" y="3" width="1" height="1" fill="#e8f4e0"/>
<rect x="291" y="2" width="8" height="8" fill="url(#gblue)"/>
<rect x="292" y="5" width="6" height="4" fill="#ffffff"/>
<rect x="293" y="8" width="4" height="1" fill="url(#gblue)"/>
<rect x="293" y="6" width="4" height="1" fill="#a4bcf0"/>
<rect x="292" y="3" width="1" height="1" fill="#e8f4e0"/>
<rect x="283" y="10" width="8" height="8" fill="url(#gblue)"/>
<rect x="284" y="13" width="6" height="4" fill="#ffffff"/>
<rect x="285" y="16" width="4" height="1" fill="url(#gblue)"/>
<rect x="285" y="14" width="4" height="1" fill="#a4bcf0"/>
<rect x="284" y="11" width="1" height="1" fill="#e8f4e0"/>
<rect x="291" y="10" width="8" height="8" fill="url(#ggrn)"/>
<rect x="292" y="13" width="6" height="4" fill="#ffffff"/>
<rect x="293" y="16" width="4" height="1" fill="url(#ggrn)"/>
<rect x="293" y="14" width="4" height="1" fill="#b4dca0"/>
<rect x="292" y="11" width="1" height="1" fill="#e8f4e0"/>
</g>
<g fill="#4a4a4a" shape-rendering="crispEdges"><rect x="321" y="4" width="1" height="14"/><rect x="319" y="15" width="14" height="1"/></g>
<path d="M319.5 6.2L321.5 3.6L323.5 6.2z M330.8 13.5L333.4 15.5L330.8 17.5z" fill="#4a4a4a"/>
<path d="M326.3 6.4L329.8 9.4L326.3 12.4z" fill="#6ae86a" stroke="#10a010" stroke-width="0.8"/>
<g fill="#4a4a4a" shape-rendering="crispEdges"><rect x="349" y="4" width="1" height="14"/><rect x="347" y="15" width="14" height="1"/></g>
<path d="M347.5 6.2L349.5 3.6L351.5 6.2z M358.8 13.5L361.4 15.5L358.8 17.5z" fill="#4a4a4a"/>
<rect x="355" y="4" width="1" height="10" fill="#1870a8" shape-rendering="crispEdges"/>
<path d="M356.3 9.5L359 7.3L358.6 9.1H361V9.9H358.6L359 11.7z" fill="#e85a00" stroke="#a82800" stroke-width="0.4"/>
<path d="M380.5 2.6H388.6L391.5 5.6V15.6H380.5z" fill="#fdfdfd" stroke="#909090" stroke-width="0.9"/>
<path d="M388.4 2.8V5.8H391.4" fill="none" stroke="#909090" stroke-width="0.7"/>
<path d="M385.5 5.5C383.5 5.5 383.6 7.5 383.6 9C383.6 11 383.8 13 385.4 13M383 9.2H385.6" fill="none" stroke="#605840" stroke-width="0.8"/>
<path d="M388.2 8H392V12H396V15.8H392V19.8H388.2V15.8H384.2V12H388.2z" fill="url(#gplus)" stroke="#109020" stroke-width="0.8"/>
<path d="M401.8 8.9h5.6l-2.8 3z" fill="#000"/>
<circle cx="426.1" cy="9.9" r="7" fill="#eef2f8" stroke="url(#gclk)" stroke-width="2.1"/>
<path d="M425.7 6.8V10.2H428.4" fill="none" stroke="#222" stroke-width="1"/>
<path d="M426.1 4.4v1M426.1 14.4v1M420.6 9.9h1M430.6 9.9h1M422.3 6.1l.7 .7M429.9 6.1l-.7 .7M422.3 13.7l.7-.7M429.9 13.7l-.7-.7" stroke="#8a8a8a" stroke-width="0.7"/><path d="M424.8 12.6h2.6" stroke="#6a9ae8" stroke-width="0.8"/>
<path d="M440.8 8.9h5.6l-2.8 3z" fill="#000"/>
<g shape-rendering="crispEdges">
<rect x="457" y="3" width="16" height="14" fill="#3a7ccc"/>
<rect x="458" y="4" width="14" height="2" fill="#a8d0f8"/>
<rect x="458" y="6" width="14" height="5" fill="#ffffff"/>
<rect x="458" y="12" width="14" height="4" fill="#ffffff"/>
</g>
<path d="M459 9.5h1.5l1.5-1h1l1.5-1h1l1.5 1h1.5l1.5-1" fill="none" stroke="#a82000" stroke-width="1.1"/>
<path d="M460 14.5h1l1.5-1l1.5 1h1l2-2l2.5 2.5" fill="none" stroke="#109030" stroke-width="1.1"/>
<path d="M479.8 8.9h5.6l-2.8 3z" fill="#000"/>
<path d="M508.9 2.8V14.1L511.6 12L513.8 17L515.6 16.2L513.4 11.2L517 10.7z" fill="#4a4a4a"/>
<g fill="#4a4a4a" shape-rendering="crispEdges"><rect x="541" y="3" width="1" height="6"/><rect x="541" y="12" width="1" height="6"/><rect x="534" y="10" width="6" height="1"/><rect x="543" y="10" width="6" height="1"/><rect x="541" y="10" width="1" height="1" fill="#77745a"/></g>
<g fill="#4a4a4a" shape-rendering="crispEdges"><rect x="575" y="4" width="1" height="13"/><rect x="598" y="10" width="12" height="1"/></g>
<path d="M625.7 16.8L638 4.8" stroke="#4a4a4a" stroke-width="1" fill="none"/>
<g stroke="#4a4a4a" fill="none" stroke-width="1"><path d="M652.3 11.6L660.2 4.2M656.8 16.6L665.8 8.4"/><path d="M654.4 15.6L657 7.4M657.3 14.6L660 5.4M660.4 12.6L663 2.6"/></g>
<text x="662.7" y="18.8" font-size="6.6" fill="#4a4a4a" font-weight="bold">E</text>
<g stroke="#4a4a4a" stroke-width="1" stroke-dasharray="1 1" shape-rendering="crispEdges"><path d="M681 3.5H695M681 6.5H695M681 10.5H695M681 14.5H691"/></g>
<text x="690.8" y="18.8" font-size="6.6" fill="#4a4a4a" font-weight="bold">F</text>
<text x="715.6" y="15" font-size="12.6" fill="#5a5a5a" text-anchor="middle" stroke="#5a5a5a" stroke-width="0.35">A</text>
<rect x="738.5" y="4.5" width="11" height="12" fill="none" stroke="#4a4a4a" stroke-width="1" stroke-dasharray="1 1.05" shape-rendering="crispEdges"/>
<rect x="737" y="3" width="2" height="1" fill="#4a4a4a"/>
<text x="744" y="15" font-size="11.4" fill="#4a4a4a" text-anchor="middle" font-weight="bold">T</text>
<path d="M768.5 4L772.2 7.6H771V8.8H766V7.6H764.8z M775.5 17L771.8 13.4H773V12.2H778V13.4H779.2z" fill="#4a4a4a"/>
<path d="M766.8 11.2L769.4 13.6L774 8.4" fill="none" stroke="#4a4a4a" stroke-width="1.3"/>
<path d="M785.6 8.9h5.6l-2.8 3z" fill="#000"/>
<text x="818.8" y="13.8" font-size="9.6" fill="#484848" text-anchor="middle">M1</text>
<text x="846.9" y="13.8" font-size="9.6" fill="#484848" text-anchor="middle">M5</text>
<text x="875.2" y="13.8" font-size="9.6" fill="#484848" text-anchor="middle">M15</text>
<text x="903.3" y="13.8" font-size="9.6" fill="#484848" text-anchor="middle">M30</text>
<text x="931.5" y="13.8" font-size="9.6" fill="#484848" text-anchor="middle">H1</text>
<text x="959" y="13.8" font-size="9.6" fill="#484848" text-anchor="middle">H4</text>
<text x="987.5" y="13.8" font-size="9.6" fill="#484848" text-anchor="middle">D1</text>
<text x="1016.2" y="13.8" font-size="9.6" fill="#484848" text-anchor="middle">W1</text>
<text x="1043.2" y="13.8" font-size="9.6" fill="#484848" text-anchor="middle">MN</text>
<path d="M1577.4 10.2L1573.2 14.6" stroke="#1c50c8" stroke-width="2.3" stroke-linecap="round"/><circle cx="1580.5" cy="7.4" r="4" fill="#f0f0f0" stroke="#2a5ccc" stroke-width="1.25"/>
<ellipse cx="1613" cy="6.6" rx="7.4" ry="4.6" fill="#fafafc" stroke="#b0b0b6" stroke-width="0.8"/><path d="M1606 8.6C1608 11.6 1613 11.8 1616 10.8V8z" fill="#d4d4de" opacity="0.8"/><ellipse cx="1604.2" cy="10.9" rx="4.8" ry="3.5" fill="#f4f4f8" stroke="#a0a0a8" stroke-width="0.8"/><path d="M1600.6 12C1602 14 1606 14.2 1608 12.6z" fill="#d0d0da" opacity="0.8"/><path d="M1601.6 13.6L1601.2 16.4L1604 14.4z" fill="#d8d8dc" stroke="#a8a8ac" stroke-width="0.5"/>
</svg>
</body></html>
